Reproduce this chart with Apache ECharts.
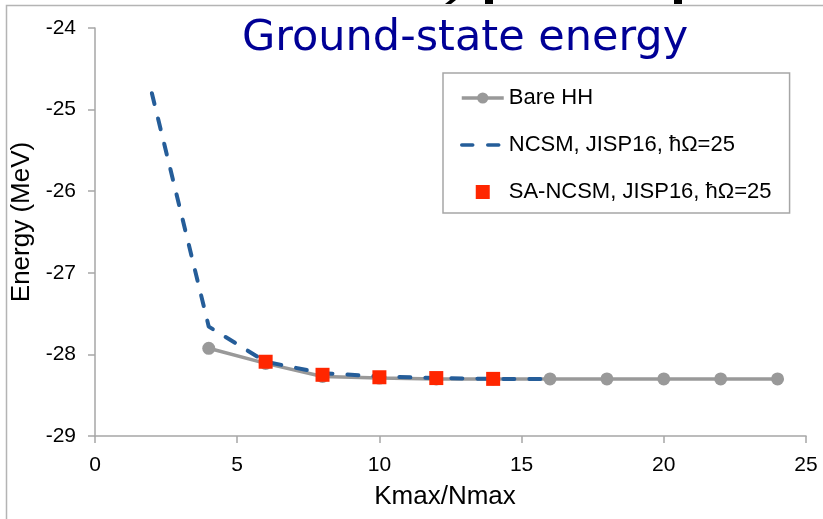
<!DOCTYPE html>
<html>
<head>
<meta charset="utf-8">
<script src="https://cdn.jsdelivr.net/npm/echarts@6/dist/echarts.min.js"></script>
<style>
  html, body { margin: 0; padding: 0; background: #fff; }
  #main { width: 823px; height: 519px; }
</style>
</head>
<body>
<div id="main"></div>
<script>
// data
var kBare = [4, 6, 8, 10, 12, 14, 16, 18, 20, 22, 24];
var eBare = [-27.925, -28.11, -28.27, -28.29, -28.30, -28.30, -28.30, -28.30, -28.30, -28.30, -28.30];
var kNcsm = [2, 4, 6, 8, 10, 12, 14, 16];
var eNcsm = [-24.80, -27.66, -28.09, -28.23, -28.27, -28.29, -28.30, -28.30];
var kSa = [6, 8, 10, 12, 14];
var eSa = [-28.09, -28.25, -28.28, -28.29, -28.30];
var seriesNames = ['Bare HH', 'NCSM, JISP16, ħΩ=25', 'SA-NCSM, JISP16, ħΩ=25'];

function pairs(xs, ys) {
    var out = [];
    for (var i = 0; i < xs.length; i++) {
        out.push([xs[i], ys[i]]);
    }
    return out;
}

var axisColor = '#a6a6a6';
var font = '"Liberation Sans", Arial, sans-serif';

var myChart = echarts.init(document.getElementById('main'));

var option = {
    animation: false,
    backgroundColor: '#fff',
    grid: { left: 95, right: 17, top: 28, bottom: 83 },
    xAxis: {
        type: 'value',
        min: 0, max: 25, interval: 5,
        name: 'Kmax/Nmax',
        nameLocation: 'middle',
        nameGap: 48,
        nameTextStyle: { color: '#000', fontSize: 26, fontFamily: font, padding: [0, 11, 0, 0] },
        splitLine: { show: false },
        axisLine: { lineStyle: { color: axisColor, width: 1.5 } },
        axisTick: { show: true, length: 7, lineStyle: { color: axisColor, width: 1.5 } },
        axisLabel: { color: '#000', fontSize: 21, fontFamily: font, margin: 19 }
    },
    yAxis: {
        type: 'value',
        min: -29, max: -24, interval: 1,
        name: 'Energy (MeV)',
        nameLocation: 'middle',
        nameGap: 57,
        nameTextStyle: { color: '#000', fontSize: 26, fontFamily: font, padding: [0, 0, 0, 20] },
        splitLine: { show: false },
        axisLine: { show: true, lineStyle: { color: axisColor, width: 1.5 } },
        axisTick: { show: true, length: 7, lineStyle: { color: axisColor, width: 1.5 } },
        axisLabel: { color: '#000', fontSize: 21, fontFamily: font, margin: 19 }
    },
    legend: {
        orient: 'vertical',
        left: 443, top: 73,
        padding: [14, 18, 10, 17],
        itemGap: 25,
        itemWidth: 42,
        itemHeight: 14,
        borderColor: axisColor,
        borderWidth: 1.5,
        lineStyle: { width: 3.5 },
        data: [
            { name: seriesNames[0] },
            { name: seriesNames[1], itemStyle: { color: 'rgba(0,0,0,0)', borderWidth: 0, opacity: 0 } },
            { name: seriesNames[2], icon: 'path://M0,0L10,0L10,10L0,10Z' }
        ],
        textStyle: { color: '#000', fontSize: 22, fontFamily: font }
    },
    graphic: [
        // outer chart frame
        { type: 'rect', shape: { x: 6.5, y: 5.5, width: 900, height: 600 },
          style: { fill: 'none', stroke: '#b4b4b4', lineWidth: 1.5 }, z: 1 },
        // bits of the cut-off slide heading above the frame
        { type: 'polygon', shape: { points: [[450, 0], [456, 0], [451, 4], [445, 4]] },
          style: { fill: '#000' }, z: 5 },
        { type: 'rect', shape: { x: 485, y: 0, width: 8, height: 4 }, style: { fill: '#000' }, z: 5 },
        { type: 'rect', shape: { x: 674, y: 0, width: 8, height: 4 }, style: { fill: '#000' }, z: 5 },
        // title
        { type: 'text', x: 242, y: 39, z: 5,
          style: { text: 'Ground-state energy', fill: '#000096',
                   fontSize: 43, fontFamily: '"DejaVu Sans", sans-serif',
                   textAlign: 'left', textVerticalAlign: 'middle' } }
    ],
    series: [
        {
            name: seriesNames[0],
            type: 'line',
            data: pairs(kBare, eBare),
            symbol: 'circle',
            symbolSize: 13,
            lineStyle: { color: '#999999', width: 3.5 },
            itemStyle: { color: '#999999' },
            z: 2
        },
        {
            name: seriesNames[1],
            type: 'line',
            data: pairs(kNcsm, eNcsm),
            symbol: 'none',
            lineStyle: { color: '#255d99', width: 4, type: [11, 15], cap: 'round' },
            itemStyle: { color: '#255d99' },
            z: 3
        },
        {
            name: seriesNames[2],
            type: 'scatter',
            data: pairs(kSa, eSa),
            symbol: 'rect',
            symbolSize: 14,
            itemStyle: { color: '#ff2600', opacity: 1 },
            z: 4
        }
    ]
};
myChart.setOption(option);
</script>
</body>
</html>
